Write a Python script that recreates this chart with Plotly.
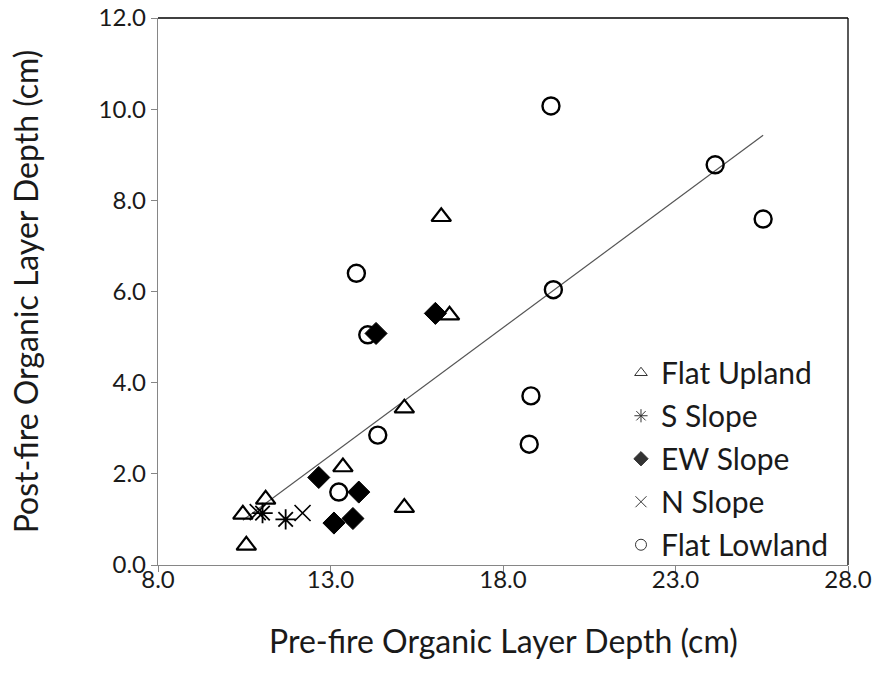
import plotly.graph_objects as go

# Pre-fire (x) and post-fire (y) organic layer depth, cm, by landscape position
upland_x = [16.21, 16.45, 15.14, 13.36, 15.14, 11.12, 10.46, 10.56]
upland_y = [7.64, 5.48, 3.44, 2.15, 1.26, 1.44, 1.11, 0.43]

s_slope_x = [11.03, 11.70]
s_slope_y = [1.14, 1.00]

ew_slope_x = [16.04, 14.32, 12.66, 13.82, 13.10, 13.65]
ew_slope_y = [5.52, 5.08, 1.92, 1.60, 0.92, 1.02]

n_slope_x = [10.89, 12.19]
n_slope_y = [1.16, 1.14]

lowland_x = [19.39, 24.15, 25.54, 13.75, 19.46, 14.08, 18.81, 14.37, 18.76, 13.24]
lowland_y = [10.07, 8.78, 7.59, 6.40, 6.04, 5.05, 3.71, 2.85, 2.65, 1.60]

# Linear trend (post = slope * pre + intercept) over the observed pre-fire range
trend_slope = 0.56
trend_intercept = -4.875
trend_x = [10.46, 25.54]

series = [
    ("Flat Upland", upland_x, upland_y, "triangle-up-open", 17, 2.2),
    ("S Slope", s_slope_x, s_slope_y, "asterisk-open", 17, 1.8),
    ("EW Slope", ew_slope_x, ew_slope_y, "diamond", 17, 1),
    ("N Slope", n_slope_x, n_slope_y, "x-thin-open", 16, 1.6),
    ("Flat Lowland", lowland_x, lowland_y, "circle-open", 17, 2.4),
]

FONT = "Lato, 'Open Sans', sans-serif"
TEXT = "#1a1a1a"
fig = go.Figure()

fig.add_trace(go.Scatter(
    x=trend_x, y=[trend_slope * v + trend_intercept for v in trend_x],
    mode="lines", line=dict(color="#555555", width=1.2),
    showlegend=False, hoverinfo="skip"))

for name, xs, ys, sym, size, lw in series:
    fig.add_trace(go.Scatter(
        x=xs, y=ys, mode="markers", name=name, showlegend=False,
        marker=dict(symbol=sym, size=size, color="black",
                    line=dict(color="black", width=lw)),
    ))

# Legend entries use smaller, thinner symbols
for name, xs, ys, sym, size, lw in series:
    fig.add_trace(go.Scatter(
        x=[None], y=[None], mode="markers", name=name, legendgroup=name,
        marker=dict(symbol=sym, size=11, color="#333333",
                    line=dict(color="#333333", width=1)),
    ))

axis_common = dict(
    showline=True, linecolor="#868686", linewidth=1.3,
    ticks="outside", tickcolor="#868686", ticklen=6, tickwidth=1.3,
    showgrid=False, zeroline=False, tickformat=".1f", automargin=False,
    ticklabeloverflow="allow",
    tickfont=dict(family=FONT, size=24, color=TEXT),
)

fig.update_layout(
    width=880, height=674,
    margin=dict(l=158, r=32, t=18, b=109),
    paper_bgcolor="white", plot_bgcolor="white",
    xaxis=dict(range=[8, 28], tick0=8, dtick=5, ticklabelstandoff=-13,
               **axis_common),
    yaxis=dict(range=[0, 12.0001], tick0=0, dtick=2, **axis_common,
               title=dict(text="Post-fire Organic Layer Depth (cm)",
                          font=dict(family=FONT, size=32, color=TEXT),
                          standoff=50)),
    legend=dict(x=0.671, y=0.399, xanchor="left", yanchor="top",
                bgcolor="rgba(0,0,0,0)", tracegroupgap=1,
                font=dict(family=FONT, size=30, color=TEXT),
                itemwidth=30),
    showlegend=True,
)

# X-axis title below the tick labels
fig.add_annotation(text="Pre-fire Organic Layer Depth (cm)", showarrow=False,
                   xref="paper", yref="paper", x=0.5, y=-0.138,
                   xanchor="center", yanchor="middle",
                   font=dict(family=FONT, size=32, color=TEXT))

# Black frame on the top and right sides of the plot area
fig.add_shape(type="line", xref="paper", yref="paper", x0=0, x1=1, y0=1, y1=1,
              line=dict(color="black", width=1.3))
fig.add_shape(type="line", xref="paper", yref="paper", x0=1, x1=1, y0=0, y1=1,
              line=dict(color="black", width=1.3))

fig.write_html("out.html")
